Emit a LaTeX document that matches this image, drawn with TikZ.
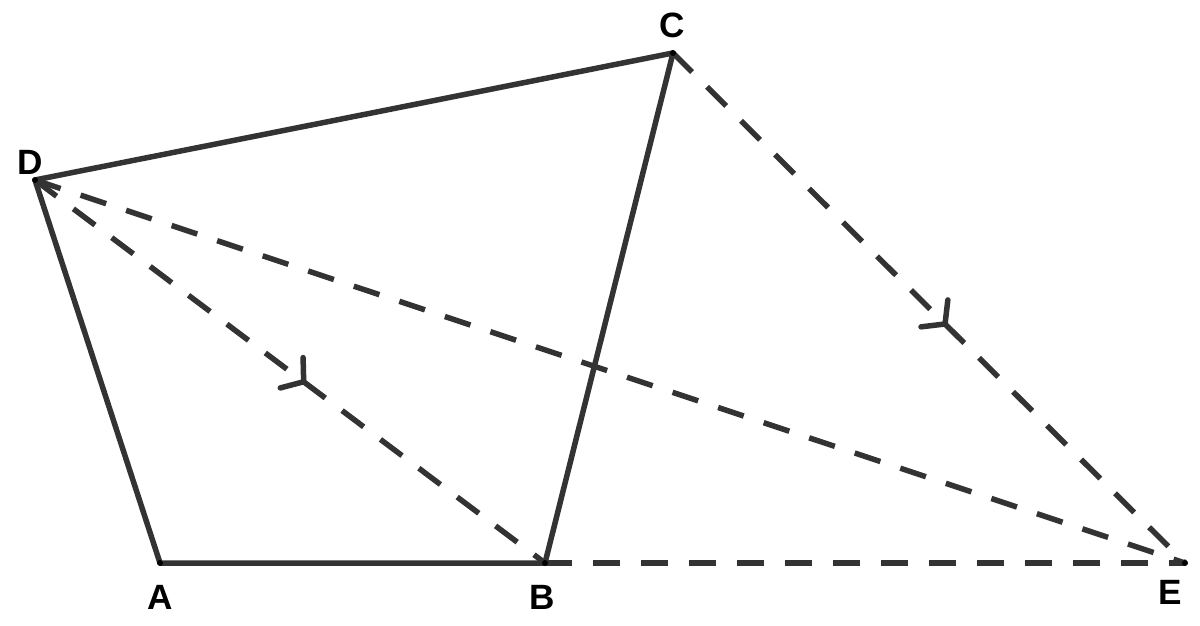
\documentclass[tikz,border=0pt]{standalone}
\usepackage{fontspec}
\setmainfont{Liberation Sans}
\usetikzlibrary{decorations.markings}
\definecolor{linegray}{HTML}{333333}
\tikzset{
    edge/.style={linegray, line width=0.11cm, line join=round},
    dashedge/.style={edge, dash pattern=on 0.54cm off 0.42cm},
    midmark/.style={postaction={decorate}, decoration={markings,
        mark=at position #1 with {\draw[linegray, line width=0.11cm, solid, line cap=round] (-0.3,0.38) -- (0,0) -- (-0.3,-0.38);}}},
    vertexlabel/.style={font=\fontsize{20}{24}\selectfont\bfseries, text=black}
}
\begin{document}
\begin{tikzpicture}

    \useasboundingbox (0,0) rectangle (24,12.5);

    % points
    \coordinate (A) at (3.2,1.24);
    \coordinate (B) at (10.9,1.24);
    \coordinate (C) at (13.46,11.44);
    \coordinate (D) at (0.7,8.9);
    \coordinate (E) at (23.7,1.24);

    % quadrilateral
    \draw[edge] (A) -- (B) -- (C) -- (D) -- cycle;

    % dashed lines
    \draw[dashedge, midmark=6.72cm] (D) -- (B);
    \draw[dashedge] (D) -- (E);
    \draw[dashedge, midmark=7.68cm] (C) -- (E);
    \draw[dashedge] (B) -- (E);

    % dots
    \foreach \p in {A,B,C,D,E}
        \fill[black] (\p) circle (0.06);

    % labels
    \node[vertexlabel] (labelA) at (3.2,0.56) {A};
    \node[vertexlabel] (labelB) at (10.84,0.56) {B};
    \node[vertexlabel] (labelC) at (13.44,12.0) {C};
    \node[vertexlabel] (labelD) at (0.6,9.26) {D};
    \node[vertexlabel] (labelE) at (23.4,0.66) {E};

\end{tikzpicture}
\end{document}
